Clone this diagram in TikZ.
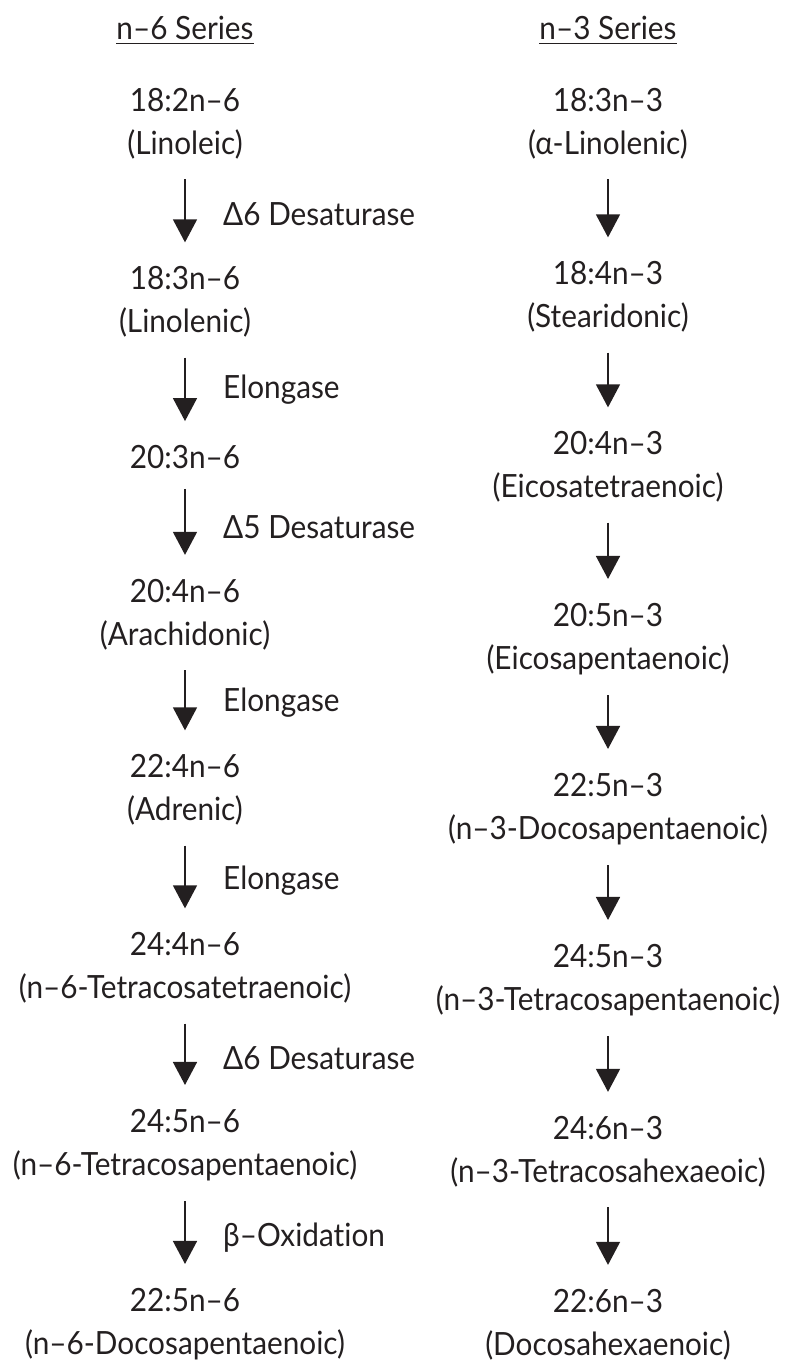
\documentclass[tikz,border=0pt]{standalone}
\usepackage{fontspec}
\setmainfont{Lato}[Ligatures=NoCommon, FakeStretch=0.93]
\usetikzlibrary{arrows.meta}
\definecolor{ink}{RGB}{35,31,32}
\begin{document}
\begin{tikzpicture}[x=1pt,y=-1pt,
  txt/.style={font=\fontsize{32}{43}\selectfont, align=center, inner sep=0pt, text=ink},
  enz/.style={font=\fontsize{32}{43}\selectfont, anchor=west, inner sep=0pt, text=ink},
  arr/.style={draw=ink, line width=1.5pt, -{Triangle[width=24pt,length=23pt]}, shorten <=20pt, shorten >=24pt},
  uline/.style={draw=ink, line width=1.8pt}]
\useasboundingbox (0,0) rectangle (786,1362);
% headers
\node[txt] (h6) at (185,28) {n–6 Series};
\node[txt] (h3) at (608,28) {n–3 Series};
\draw[uline] ([yshift=-4pt]h6.base west) -- ([yshift=-4pt]h6.base east);
\draw[uline] ([yshift=-4pt]h3.base west) -- ([yshift=-4pt]h3.base east);
% n-6 column
\node[txt] (L1) at (185,123.5) {18:2n–6\\(Linoleic)};
\node[txt] (L2) at (185,302) {18:3n–6\\(Linolenic)};
\node[txt] (L3) at (185,457) {20:3n–6};
\node[txt] (L4) at (185,614.5) {20:4n–6\\(Arachidonic)};
\node[txt] (L5) at (185,790) {22:4n–6\\(Adrenic)};
\node[txt] (L6) at (185,968) {24:4n–6\\(n–6-Tetracosatetraenoic)};
\node[txt] (L7) at (185,1145) {24:5n–6\\(n–6-Tetracosapentaenoic)};
\node[txt] (L8) at (185,1324) {22:5n–6\\(n–6-Docosapentaenoic)};
\draw[arr] (L1) -- (L2);
\draw[arr] (L2) -- (L3);
\draw[arr] (L3) -- (L4);
\draw[arr] (L4) -- (L5);
\draw[arr] (L5) -- (L6);
\draw[arr] (L6) -- (L7);
\draw[arr] (L7) -- (L8);
\node[enz] (E1) at (223,214) {Δ6 Desaturase};
\node[enz] (E2) at (223,390) {Elongase};
\node[enz] (E3) at (223,527) {Δ5 Desaturase};
\node[enz] (E4) at (223,703) {Elongase};
\node[enz] (E5) at (223,881) {Elongase};
\node[enz] (E6) at (223,1058) {Δ6 Desaturase};
\node[enz] (E7) at (223,1238) {β–Oxidation};
% n-3 column
\node[txt] (R1) at (608,123.5) {18:3n–3\\(α-Linolenic)};
\node[txt] (R2) at (608,297) {18:4n–3\\(Stearidonic)};
\node[txt] (R3) at (608,467) {20:4n–3\\(Eicosatetraenoic)};
\node[txt] (R4) at (608,639) {20:5n–3\\(Eicosapentaenoic)};
\node[txt] (R5) at (608,809) {22:5n–3\\(n–3-Docosapentaenoic)};
\node[txt] (R6) at (608,980) {24:5n–3\\(n–3-Tetracosapentaenoic)};
\node[txt] (R7) at (608,1151.5) {24:6n–3\\(n–3-Tetracosahexaeoic)};
\node[txt] (R8) at (608,1324.5) {22:6n–3\\(Docosahexaenoic)};
\draw[arr] (R1) -- (R2);
\draw[arr] (R2) -- (R3);
\draw[arr] (R3) -- (R4);
\draw[arr] (R4) -- (R5);
\draw[arr] (R5) -- (R6);
\draw[arr] (R6) -- (R7);
\draw[arr] (R7) -- (R8);
\end{tikzpicture}
\end{document}
